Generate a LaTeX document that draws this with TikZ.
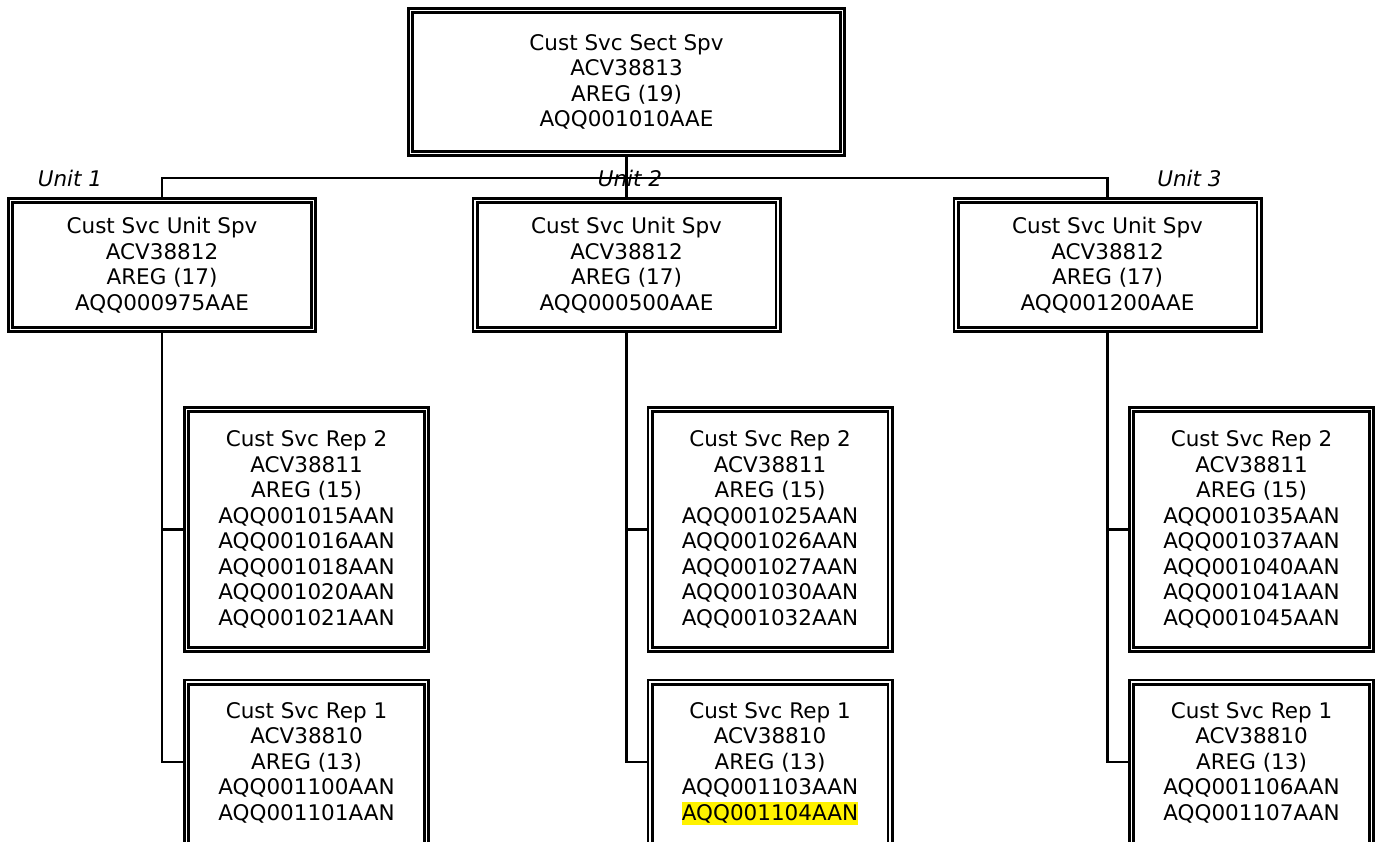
\documentclass[tikz,border=0pt]{standalone}
\usepackage{fontspec}
\setmainfont{DejaVu Sans}
\usetikzlibrary{positioning}

\newcommand{\hilite}[1]{{\setlength{\fboxsep}{0pt}\colorbox{yellow}{\rule[-5pt]{0pt}{23pt}#1}}}

\begin{document}
\begin{tikzpicture}[
        x=1pt, y=-1pt,
        post/.style={draw, line width=2.75pt, double=white, double distance=1.5pt,
            inner sep=0pt, outer sep=3.5pt, align=center,
            font=\fontsize{21.5}{25.5}\selectfont},
        sect/.style={post, minimum width=432pt, minimum height=143pt},
        unitbox/.style={post, minimum width=303pt, minimum height=129pt},
        rep/.style={post, minimum width=240pt},
        reptext/.style={align=center, inner sep=0pt, font=\fontsize{21.5}{25.5}\selectfont},
        unitlabel/.style={inner sep=0pt, font=\fontsize{21.5}{25.5}\selectfont\itshape},
        link/.style={line width=2.25pt}
    ]
    \useasboundingbox (0,0) rectangle (1379,842);

    % section supervisor
    \node [sect] (sect) at (626.5,82) {Cust Svc Sect Spv\\ACV38813\\AREG (19)\\AQQ001010AAE};

    % unit supervisors
    \node [unitbox] (u1) at (162,265) {Cust Svc Unit Spv\\ACV38812\\AREG (17)\\AQQ000975AAE};
    \node [unitbox] (u2) at (626.5,265) {Cust Svc Unit Spv\\ACV38812\\AREG (17)\\AQQ000500AAE};
    \node [unitbox] (u3) at (1107.5,265) {Cust Svc Unit Spv\\ACV38812\\AREG (17)\\AQQ001200AAE};

    \node [unitlabel] (lab1) at (70,178) {Unit 1};
    \node [unitlabel] (lab2) at (630,178) {Unit 2};
    \node [unitlabel] (lab3) at (1189.5,178) {Unit 3};

    % rep 2 boxes
    \node [rep, minimum height=240pt] (r2a) at (306.5,529.5) {Cust Svc Rep 2\\ACV38811\\AREG (15)\\AQQ001015AAN\\AQQ001016AAN\\AQQ001018AAN\\AQQ001020AAN\\AQQ001021AAN};
    \node [rep, minimum height=240pt] (r2b) at (770,529.5) {Cust Svc Rep 2\\ACV38811\\AREG (15)\\AQQ001025AAN\\AQQ001026AAN\\AQQ001027AAN\\AQQ001030AAN\\AQQ001032AAN};
    \node [rep, minimum height=240pt] (r2c) at (1251.5,529.5) {Cust Svc Rep 2\\ACV38811\\AREG (15)\\AQQ001035AAN\\AQQ001037AAN\\AQQ001040AAN\\AQQ001041AAN\\AQQ001045AAN};

    % rep 1 boxes (run past the bottom edge)
    \node [rep, minimum height=180pt] (r1a) at (306.5,772) {};
    \node [reptext, below=23.5pt of r1a.north] (t1a) {Cust Svc Rep 1\\ACV38810\\AREG (13)\\AQQ001100AAN\\AQQ001101AAN};
    \node [rep, minimum height=180pt] (r1b) at (770,772) {};
    \node [reptext, below=23.5pt of r1b.north] (t1b) {Cust Svc Rep 1\\ACV38810\\AREG (13)\\AQQ001103AAN\\\hilite{AQQ001104AAN}};
    \node [rep, minimum height=180pt] (r1c) at (1251.5,772) {};
    \node [reptext, below=23.5pt of r1c.north] (t1c) {Cust Svc Rep 1\\ACV38810\\AREG (13)\\AQQ001106AAN\\AQQ001107AAN};

    % connectors
    \coordinate (bus) at (626.5,178);
    \draw [link] (sect.south) -- (bus);
    \draw [link] (u1.north) |- (bus) -| (u3.north);
    \draw [link] (bus) -- (u2.north);

    \draw [link] (u1.south) |- (r2a.west);
    \draw [link] (u1.south) |- ([yshift=10pt]r1a.west);
    \draw [link] (u2.south) |- (r2b.west);
    \draw [link] (u2.south) |- ([yshift=10pt]r1b.west);
    \draw [link] (u3.south) |- (r2c.west);
    \draw [link] (u3.south) |- ([yshift=10pt]r1c.west);
\end{tikzpicture}
\end{document}
